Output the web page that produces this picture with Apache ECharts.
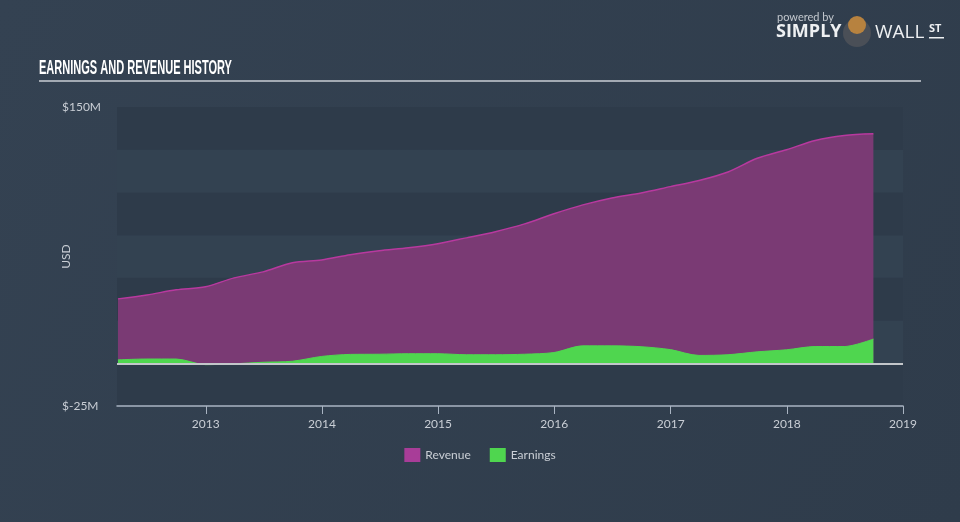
<!DOCTYPE html>
<html>
<head>
<meta charset="utf-8">
<script src="https://cdn.jsdelivr.net/npm/echarts@6/dist/echarts.min.js"></script>
<style>
  html, body { margin: 0; padding: 0; }
  #chart { width: 960px; height: 522px; }
</style>
</head>
<body>
<div id="chart"></div>
<script>
// quarter ends
var dates = ['2012-03-31', '2012-06-30', '2012-09-30', '2012-12-31',
  '2013-03-31', '2013-06-30', '2013-09-30', '2013-12-31',
  '2014-03-31', '2014-06-30', '2014-09-30', '2014-12-31',
  '2015-03-31', '2015-06-30', '2015-09-30', '2015-12-31',
  '2016-03-31', '2016-06-30', '2016-09-30', '2016-12-31',
  '2017-03-31', '2017-06-30', '2017-09-30', '2017-12-31',
  '2018-03-31', '2018-06-30', '2018-09-30'];
// USD millions
var revenue = [37.7, 40.0, 43.0, 44.8, 50.0, 53.5, 58.8, 60.5, 63.5, 65.8, 67.6, 70.0,
  73.4, 77.0, 81.6, 87.5, 92.7, 96.8, 99.7, 103.4, 107.0, 112.0, 120.0, 125.0,
  130.4, 133.3, 134.3];
var earnings = [2.0, 2.5, 2.5, -0.8, -0.3, 0.6, 1.2, 4.0, 5.2, 5.3, 5.6, 5.6,
  5.0, 5.0, 5.3, 6.3, 10.2, 10.2, 9.7, 8.0, 4.6, 5.0, 6.7, 7.9,
  9.8, 9.8, 14.2];
var yLabels = [-25, 150];

var chart = echarts.init(document.getElementById('chart'));
var txt = '#c9ced5';
var font = 'Lato, "Open Sans", sans-serif';
var green = '#4fd64f', red = '#d9442f';

function pairs(vals) {
  return dates.map(function (d, i) { return [d, vals[i]]; });
}

// green above zero, red below: split the earnings box at the zero line
var eMax = Math.max.apply(null, earnings), eMin = Math.min.apply(null, earnings);
var zeroAt = eMax / (eMax - eMin);
var earnFill = new echarts.graphic.LinearGradient(0, 0, 0, 1, [
  { offset: 0, color: green }, { offset: zeroAt, color: green },
  { offset: zeroAt, color: red }, { offset: 1, color: red }
]);

chart.setOption({
  backgroundColor: {
    type: 'linear', x: 0, y: 0, x2: 1, y2: 1,
    colorStops: [{ offset: 0, color: '#344252' }, { offset: 1, color: '#2f3c4b' }]
  },
  animation: false,
  graphic: [
    {
      type: 'text', x: 39, y: 58, scaleX: 0.525,
      style: { text: 'EARNINGS AND REVENUE HISTORY', fill: '#ffffff', font: 'bold 21px "Liberation Sans", sans-serif' }
    },
    { type: 'rect', shape: { x: 39, y: 80, width: 882, height: 2 }, style: { fill: '#a3aab3' } },
    { type: 'text', left: 777, top: 12, style: { text: 'powered by', fill: '#c3c8ce', font: '11px Lato, sans-serif' } },
    { type: 'text', left: 776, top: 23, style: { text: 'SIMPLY', fill: '#eef0f2', font: 'bold 18px "Open Sans", sans-serif' } },
    { type: 'circle', shape: { cx: 857, cy: 33, r: 14 }, style: { fill: '#4a4f57' } },
    { type: 'circle', shape: { cx: 857, cy: 25, r: 9 }, style: { fill: '#b7823f' } },
    { type: 'text', left: 875, top: 23, style: { text: 'WALL', fill: '#eef0f2', font: '19px "Open Sans", sans-serif' } },
    { type: 'text', left: 929, top: 23, style: { text: 'ST', fill: '#eef0f2', font: 'bold 11px "Open Sans", sans-serif' } },
    { type: 'rect', shape: { x: 929, y: 37, width: 15, height: 1.5 }, style: { fill: '#eef0f2' } }
  ],
  legend: {
    bottom: 55, left: 'center',
    itemWidth: 16, itemHeight: 14, itemGap: 19,
    icon: 'rect',
    textStyle: { color: txt, fontSize: 12, fontFamily: font },
    data: [
      { name: 'Revenue', itemStyle: { color: '#a83d98' } },
      { name: 'Earnings', itemStyle: { color: green } }
    ]
  },
  grid: { left: 117, right: 57, top: 107, bottom: 116 },
  xAxis: {
    type: 'time',
    min: '2012-03-28',
    max: '2019-01-01',
    minInterval: 365 * 24 * 3600 * 1000,
    splitNumber: 7,
    axisLine: { onZero: false, lineStyle: { color: '#a9b4c2', width: 1.5 } },
    axisTick: { show: true, length: 8, lineStyle: { color: '#a9b4c2' } },
    axisLabel: { color: txt, fontSize: 12, fontFamily: font, formatter: '{yyyy}', margin: 12, showMaxLabel: true },
    splitLine: { show: false }
  },
  yAxis: {
    type: 'value',
    min: -25, max: 150, interval: 25,
    name: 'USD', nameLocation: 'middle', nameGap: 45, nameRotate: 90,
    nameMoveOverlap: false,
    nameTextStyle: { color: txt, fontSize: 12, fontFamily: font },
    axisLine: { show: false },
    axisTick: { show: false },
    axisLabel: {
      color: txt, fontSize: 12, fontFamily: font, align: 'left', margin: 55,
      formatter: function (v) { return yLabels.indexOf(v) >= 0 ? '$' + v + 'M' : ''; }
    },
    splitLine: { show: false },
    splitArea: { show: true, areaStyle: { color: ['#2e3b4a', '#334251'] } }
  },
  series: [
    {
      name: 'Revenue', type: 'line', smooth: 0.3, symbol: 'none',
      itemStyle: { color: '#a83d98' },
      lineStyle: { color: '#b8399f', width: 1.5 },
      areaStyle: { color: '#7a3a74', opacity: 1 },
      data: pairs(revenue),
      markLine: {
        silent: true, symbol: 'none', label: { show: false },
        lineStyle: { color: '#c3c6ca', width: 2, type: 'solid' },
        data: [{ yAxis: 0 }]
      }
    },
    {
      name: 'Earnings', type: 'line', smooth: 0.3, symbol: 'none',
      itemStyle: { color: green },
      lineStyle: { width: 1, color: earnFill },
      areaStyle: { opacity: 1, color: earnFill },
      data: pairs(earnings)
    }
  ]
});
</script>
</body>
</html>
